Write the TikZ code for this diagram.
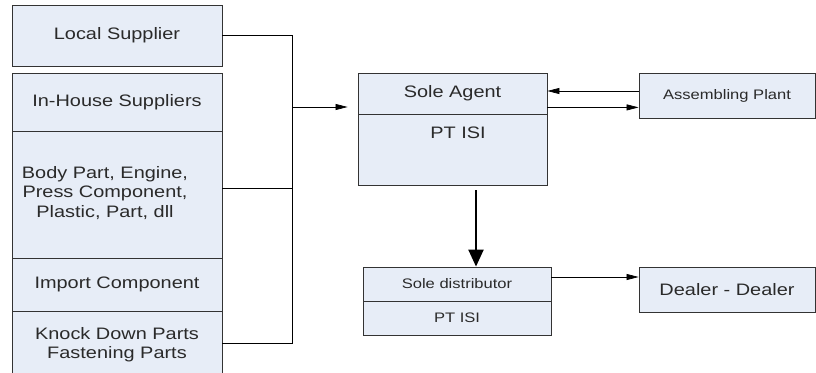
\documentclass[tikz,border=0pt]{standalone}
\usepackage{fontspec}
\setmainfont[FakeStretch=1.2]{Liberation Sans}
\usetikzlibrary{arrows.meta}
\definecolor{cellfill}{HTML}{E7EDF7}
\definecolor{boxline}{HTML}{333333}
\definecolor{inkc}{HTML}{2A2A2A}

\begin{document}
\begin{tikzpicture}[x=1pt,y=-1pt,
  cell/.style={draw=boxline, fill=cellfill, line width=0.8pt, inner sep=0pt,
    text=inkc, align=center, font=\fontsize{16.6}{19.5}\selectfont},
  smallcell/.style={cell, font=\fontsize{13.8}{16}\selectfont},
  wire/.style={draw=black, line width=0.7pt},
  flow/.style={wire, -{Triangle[length=12pt,width=6pt]}},
  bigflow/.style={draw=black, line width=2.2pt, -{Triangle[length=17pt,width=15pt]}}]

\clip (0,0) rectangle (816,372);
\fill[white] (0,0) rectangle (816,372);

% supplier column
\node[cell, minimum width=210, minimum height=61] (ls) at (117,35.5) {Local Supplier};
\node[cell, minimum width=210, minimum height=58] (ih) at (117,102) {In-House Suppliers};
\node[cell, minimum width=210, minimum height=127] (bp) at (117,194.5) {};
\node[text=inkc, align=center, font=\fontsize{16.6}{19.5}\selectfont] (bpt) at (105,193)
  {Body Part, Engine,\\Press Component,\\Plastic, Part, dll};
\node[cell, minimum width=210, minimum height=53] (ic) at (117,284.5) {Import Component};
\node[cell, minimum width=210, minimum height=67] (kd) at (117,344.5)
  {Knock Down Parts\\Fastening Parts};

% sole agent
\node[cell, minimum width=189, minimum height=41] (sat) at (452.5,93.5) {Sole Agent};
\node[cell, minimum width=189, minimum height=71] (sab) at (452.5,149.5) {};
\node[text=inkc, font=\fontsize{16.6}{19.5}\selectfont] (sabt) at (458,133) {PT ISI};

% assembling plant
\node[smallcell, minimum width=176, minimum height=45] (ap) at (727,95.5) {Assembling Plant};

% sole distributor
\node[smallcell, minimum width=188, minimum height=34] (sdt) at (457,284) {Sole distributor};
\node[smallcell, minimum width=188, minimum height=34] (sdb) at (457,318) {PT ISI};

% dealer
\node[cell, minimum width=176, minimum height=45] (dl) at (727,289.5) {Dealer - Dealer};

% collecting bus from the suppliers
\coordinate (bus) at (292,107);
\coordinate (bustop) at (292,35.5);
\coordinate (busbot) at (292,343);
\draw[wire] (ls.east) -- (bustop) -- (busbot) -- (busbot -| kd.east);
\draw[wire] ([yshift=6.5]bp.east) -- ([yshift=6.5]bp.east -| bus);
\draw[flow] (bus) -- ([xshift=-10]bus -| sat.west);

% agent <-> assembling plant
\draw[flow] ([yshift=4.5]ap.west) -- ([yshift=2.5]sat.east);
\draw[flow] ([yshift=7]sat.south east) -- ([yshift=7]sat.south east -| ap.west);

% agent -> distributor -> dealer
\draw[bigflow] ([xshift=23.5,yshift=-5]sab.south) -- ([xshift=19]sdt.north);
\draw[flow] ([yshift=7]sdt.east) -- ([yshift=7]sdt.east -| dl.west);
\end{tikzpicture}
\end{document}
